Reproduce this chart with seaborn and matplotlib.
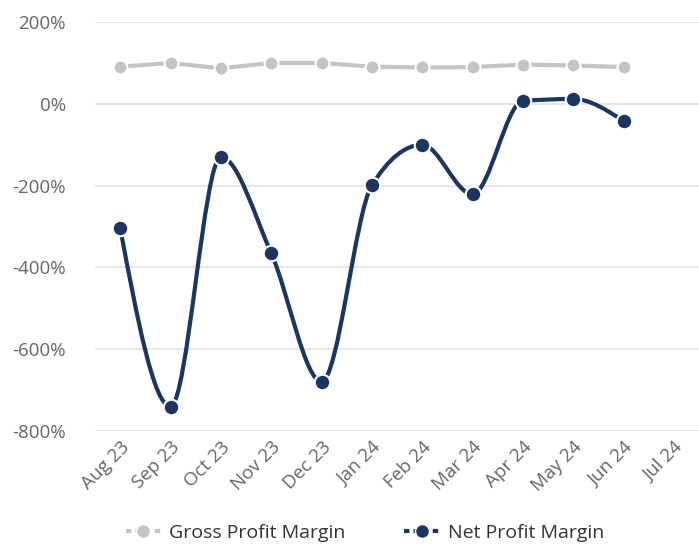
import matplotlib
matplotlib.use("Agg")
import matplotlib.pyplot as plt
import numpy as np
import pandas as pd
import seaborn as sns
from matplotlib.lines import Line2D
from matplotlib.patches import PathPatch
from matplotlib.path import Path

months = ["Aug 23", "Sep 23", "Oct 23", "Nov 23", "Dec 23", "Jan 24",
          "Feb 24", "Mar 24", "Apr 24", "May 24", "Jun 24", "Jul 24"]
gross_margin = [91, 100, 87, 100, 100, 91, 89, 90, 96, 94, 90]
net_margin = [-304, -740, -130, -365, -679, -199, -100, -221, 7, 12, -42]
y_ticks = [-800, -600, -400, -200, 0, 200]

GROSS = "#c4c4c4"
NET = "#1d3561"
TEXT = "#666666"


def monotone_path(x, y):
    """Cubic bezier path through points, monotone in x (flat at extrema)."""
    x = np.asarray(x, float)
    y = np.asarray(y, float)
    h = np.diff(x)
    s = np.diff(y) / h
    n = len(x)
    t = np.zeros(n)
    for i in range(1, n - 1):
        s0, s1 = s[i - 1], s[i]
        if s0 * s1 <= 0:
            t[i] = 0
        else:
            p = (s0 * h[i] + s1 * h[i - 1]) / (h[i - 1] + h[i])
            t[i] = (np.sign(s0) + np.sign(s1)) * min(abs(s0), abs(s1), 0.5 * abs(p))
    t[0] = (3 * s[0] - t[1]) / 2
    t[-1] = (3 * s[-1] - t[-2]) / 2
    verts = [(x[0], y[0])]
    codes = [Path.MOVETO]
    for i in range(n - 1):
        d = h[i] / 3
        verts += [(x[i] + d, y[i] + d * t[i]), (x[i + 1] - d, y[i + 1] - d * t[i + 1]), (x[i + 1], y[i + 1])]
        codes += [Path.CURVE4] * 3
    return Path(verts, codes)


sns.set_theme(style="white")
plt.rcParams["font.family"] = ["Open Sans", "DejaVu Sans"]

fig = plt.figure(figsize=(6.99, 5.52), dpi=100)
ax = fig.add_axes([0.136, 0.219, 0.864, 0.741])

n = len(gross_margin)
df = pd.DataFrame({"x": np.arange(n), "gross": gross_margin, "net": net_margin})

sns.lineplot(data=df, x="x", y="gross", ax=ax, color=GROSS, lw=3, marker="o",
             markersize=10, markeredgecolor="white", markeredgewidth=1.5, zorder=3)

ax.add_patch(PathPatch(monotone_path(df["x"], df["net"]), facecolor="none",
                       edgecolor=NET, lw=3, zorder=3, capstyle="round"))
sns.scatterplot(data=df, x="x", y="net", ax=ax, color=NET, s=125,
                edgecolor="white", linewidth=1.5, zorder=4)

ax.set_xlim(-0.5, len(months) - 0.5)
ax.set_ylim(-800, 200)
ax.set_xticks(range(len(months)))
ax.set_xticklabels(months, rotation=45, ha="right", rotation_mode="anchor")
ax.set_yticks(y_ticks)
ax.set_yticklabels([f"{v}%" for v in y_ticks])
ax.tick_params(axis="both", colors=TEXT, labelsize=13.5, length=0)
ax.tick_params(axis="x", pad=5)
ax.tick_params(axis="y", pad=21)
ax.set_xlabel("")
ax.set_ylabel("")
ax.grid(axis="y", color="#e6e6e6", lw=1.5)
ax.set_axisbelow(True)
sns.despine(ax=ax, left=True, bottom=True, top=True, right=True)

handles = [
    Line2D([], [], color=GROSS, lw=3, ls=(0, (1.3, 1)), marker="o", markersize=10,
           markeredgecolor="white", markeredgewidth=1),
    Line2D([], [], color=NET, lw=3, ls=(0, (1.3, 1)), marker="o", markersize=10,
           markeredgecolor="white", markeredgewidth=1),
]
fig.legend(handles, ["Gross Profit Margin", "Net Profit Margin"], loc="lower center",
           bbox_to_anchor=(0.522, -0.014), ncol=2, frameon=False, fontsize=14,
           labelcolor="#333333", handlelength=1.8, columnspacing=3.0, handletextpad=0.45)

fig.savefig("out.png", dpi=100)
